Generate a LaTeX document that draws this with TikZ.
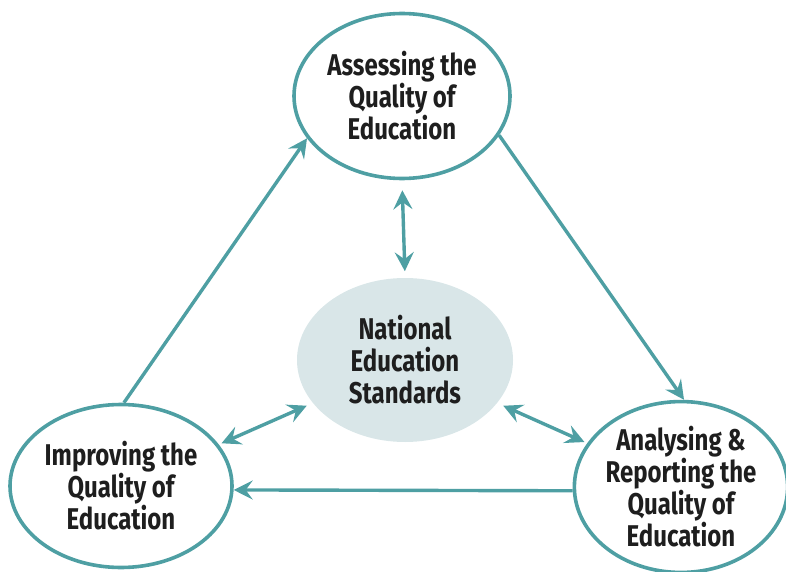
\documentclass[tikz,border=0pt]{standalone}
\usepackage{fontspec}
\newfontfamily\diagfont[FakeStretch=0.8]{Fira Sans}
\usetikzlibrary{shapes.geometric,arrows.meta}
\definecolor{cycleteal}{HTML}{4E9FA3}
\definecolor{corefill}{HTML}{D9E6E8}
\definecolor{labelgrey}{HTML}{1E1E1E}

\begin{document}
\begin{tikzpicture}[x=1pt, y=-1pt]
        \tikzstyle{stage}=[ellipse, draw=cycleteal, line width=3.6pt, fill=white, inner sep=0pt, align=center, text=labelgrey, font=\diagfont\bfseries\fontsize{30}{32}\selectfont]
        \tikzstyle{core}=[stage, draw=none, fill=corefill]
        \tikzstyle{flow}=[draw=cycleteal, line width=3.4pt, -{Stealth[length=19pt,width=19pt,inset=7pt]}]
        \tikzstyle{link}=[flow, {Stealth[length=19pt,width=19pt,inset=7pt]}-{Stealth[length=19pt,width=19pt,inset=7pt]}]
        \useasboundingbox (0,0) rectangle (786,572);
        % the four ellipses
        \node [stage, minimum width=216pt, minimum height=165pt] (assess) at (402,96) {Assessing the\\Quality of\\Education};
        \node [core, minimum width=216pt, minimum height=164pt] (standards) at (405,360) {National\\Education\\Standards};
        \node [stage, minimum width=222pt, minimum height=163pt] (improve) at (121,486) {Improving the\\Quality of\\Education};
        \node [stage, minimum width=208pt, minimum height=165pt] (analyse) at (681,487) {Analysing \&\\Reporting the\\Quality of\\Education};
        % the cycle
        \draw [flow] (improve.88) -- (assess.-156);
        \draw [flow] (assess.-22) -- (analyse.88);
        \draw [flow] (analyse.182) -- (improve.-2);
        % links to the standards
        \draw [link, shorten <=10pt, shorten >=5pt] (assess.south) -- (standards.north);
        \draw [link, shorten <=3pt, shorten >=5pt] (improve.23) -- (standards.205);
        \draw [link, shorten <=5pt, shorten >=3pt] (standards.-25) -- (analyse.155);
    \end{tikzpicture}
\end{document}
